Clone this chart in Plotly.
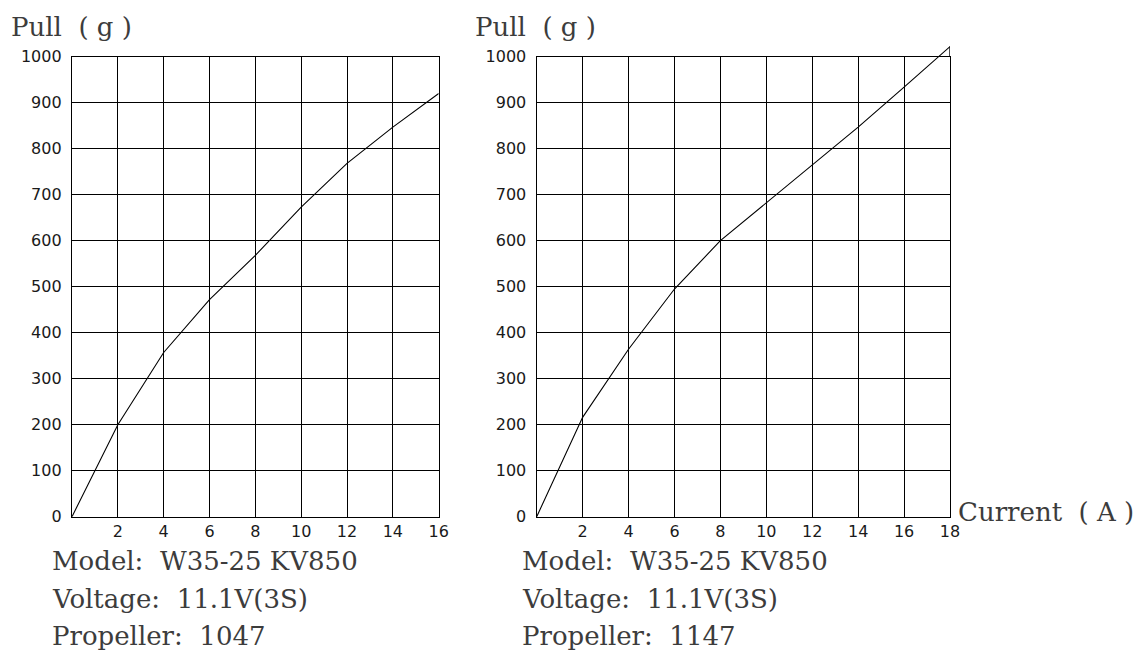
import plotly.graph_objects as go

W, H = 1143, 654

# ---- data ----
left_current = [0, 2, 4, 6, 8, 10, 12, 14, 16]
left_pull = [0, 200, 357, 472, 568, 673, 768, 847, 920]
right_current = [0, 2, 4, 6, 8, 10, 12, 14, 16, 18]
right_pull = [0, 216, 364, 495, 600, 682, 766, 847, 934, 1022]

y_ticks = [0, 100, 200, 300, 400, 500, 600, 700, 800, 900, 1000]
left_x_ticks = [2, 4, 6, 8, 10, 12, 14, 16]
right_x_ticks = [2, 4, 6, 8, 10, 12, 14, 16, 18]

y_title = "Pull\u00a0\u00a0(\u00a0g\u00a0)"
x_title = "Current\u00a0\u00a0(\u00a0A\u00a0)"
left_info = ["Model: \u00a0W35-25 KV850", "Voltage: \u00a011.1V(3S)", "Propeller: \u00a01047"]
right_info = ["Model: \u00a0W35-25 KV850", "Voltage: \u00a011.1V(3S)", "Propeller: \u00a01147"]

def px(x):
    return x / W

def py(y):
    return 1 - y / H

Y0, Y1000 = 516.7, 56.7
per_unit = (Y0 - Y1000) / 1000.0
L_X0, L_X1 = 72.0, 438.7
R_X0, R_X1 = 536.7, 950.0
Y_EXT = 1026

fig = go.Figure()

fig.add_trace(go.Scatter(x=left_current, y=left_pull, mode="lines",
                         line=dict(color="black", width=1.1),
                         xaxis="x", yaxis="y", showlegend=False, hoverinfo="skip"))
fig.add_trace(go.Scatter(x=[], y=[], xaxis="x2", yaxis="y2", showlegend=False))
fig.add_trace(go.Scatter(x=right_current, y=right_pull, mode="lines",
                         line=dict(color="black", width=1.1),
                         xaxis="x3", yaxis="y3", showlegend=False, hoverinfo="skip"))
fig.add_trace(go.Scatter(x=[right_current[-1], right_current[-1]], y=[y_ticks[-1], right_pull[-1]],
                         mode="lines", line=dict(color="black", width=1.4),
                         xaxis="x3", yaxis="y3", showlegend=False, hoverinfo="skip"))

tickfont = dict(family="DejaVu Sans", size=16, color="#1a1a1a")
grid = dict(showgrid=True, gridcolor="black", gridwidth=1.4,
            showline=True, linecolor="black", linewidth=1.4, mirror=True,
            zeroline=False, ticks="", fixedrange=True, automargin=False)

ydom = [py(Y0), py(Y1000)]
fig.update_layout(
    width=W, height=H, autosize=False, showlegend=False,
    margin=dict(l=0, r=0, t=0, b=0, pad=0, autoexpand=False),
    paper_bgcolor="white", plot_bgcolor="rgba(0,0,0,0)",
    xaxis=dict(domain=[px(L_X0), px(L_X1)], range=[0, 16], anchor="y",
               tickvals=left_x_ticks, tickfont=tickfont, ticklabelstandoff=0, **grid),
    yaxis=dict(domain=ydom, range=[0, 1000], anchor="x",
               tickvals=y_ticks, tickfont=tickfont, ticklabelstandoff=6, **grid),
    xaxis2=dict(domain=[px(R_X0), px(R_X1)], range=[0, 18], anchor="y2",
                tickvals=right_x_ticks, tickfont=tickfont, ticklabelstandoff=0, **grid),
    yaxis2=dict(domain=ydom, range=[0, 1000], anchor="x2",
                tickvals=y_ticks, tickfont=tickfont, ticklabelstandoff=6, **grid),
    xaxis3=dict(domain=[px(R_X0), px(R_X1)], range=[0, 18], anchor="y3", visible=False),
    yaxis3=dict(domain=[py(Y0), py(Y0 - Y_EXT * per_unit)], range=[0, Y_EXT],
                anchor="x3", visible=False),
)

serif = "DejaVu Serif"
txtcol = "#3c3c3c"

def label(text, x, y, size=26, xanchor="left"):
    fig.add_annotation(text=text, x=px(x), y=py(y), xref="paper", yref="paper",
                       xanchor=xanchor, yanchor="middle", showarrow=False,
                       font=dict(family=serif, size=size, color=txtcol))

label(y_title, 9, 27, size=26)
label(y_title, 473, 27, size=26)
label(x_title, 956, 512, size=26)

rows = [561, 599, 636]
for t, yy in zip(left_info, rows):
    label(t, 50, yy, size=26)
for t, yy in zip(right_info, rows):
    label(t, 520, yy, size=26)

fig.write_html("out.html", config={"displayModeBar": False},
               post_script="document.body.style.margin='0';document.body.style.overflow='hidden';")
